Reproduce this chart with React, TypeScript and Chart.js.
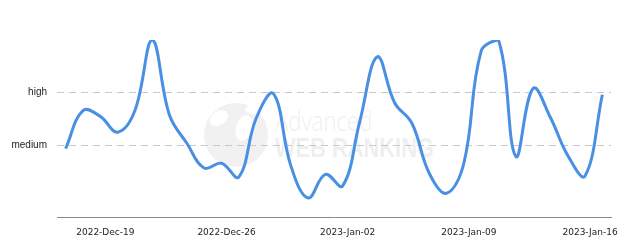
import React, { useEffect, useRef } from "react";
import { Chart, registerables } from "chart.js";

Chart.register(...registerables);

const days = [
  "2022-12-16", "2022-12-17", "2022-12-18", "2022-12-19", "2022-12-20", "2022-12-21",
  "2022-12-22", "2022-12-23", "2022-12-24", "2022-12-25", "2022-12-26", "2022-12-27",
  "2022-12-28", "2022-12-29", "2022-12-30", "2022-12-31", "2023-01-01", "2023-01-02",
  "2023-01-03", "2023-01-04", "2023-01-05", "2023-01-06", "2023-01-07", "2023-01-08",
  "2023-01-09", "2023-01-10", "2023-01-11", "2023-01-12", "2023-01-13", "2023-01-14",
  "2023-01-15", "2023-01-16",
];

const volatility = [
  1.94, 2.66, 2.55, 2.25, 2.66, 4.0, 2.57, 2.04, 1.57, 1.66, 1.4, 2.51,
  2.98, 1.62, 1.0, 1.45, 1.23, 2.47, 3.68, 2.81, 2.42, 1.47, 1.09, 1.66,
  3.79, 4.0, 1.79, 3.08, 2.53, 1.81, 1.42, 2.96,
];

const recordHour = 17;

const tickDays = ["2022-12-19", "2022-12-26", "2023-01-02", "2023-01-09", "2023-01-16"];
const tickLabels = ["2022-Dec-19", "2022-Dec-26", "2023-Jan-02", "2023-Jan-09", "2023-Jan-16"];

const levelValues = [2, 3];
const levelNames = ["medium", "high"];

const yMin = 0.64;
const yMax = 4;

const DAY = 86400000;
const base = Date.parse(days[0] + "T00:00:00Z");
const dayNum = (d: string) => (Date.parse(d + "T00:00:00Z") - base) / DAY;

const watermark = {
  id: "watermark",
  beforeDraw(chart: any) {
    const ctx = chart.ctx;
    ctx.save();
    // globe
    ctx.fillStyle = "#f1f1f1";
    ctx.beginPath();
    ctx.arc(236, 135, 32, 0, Math.PI * 2);
    ctx.fill();
    ctx.fillStyle = "#ffffff";
    ctx.beginPath();
    ctx.ellipse(219, 118, 10, 7, -0.6, 0, Math.PI * 2);
    ctx.fill();
    ctx.beginPath();
    ctx.ellipse(244, 128, 8, 13, 0.3, 0, Math.PI * 2);
    ctx.fill();
    ctx.beginPath();
    ctx.ellipse(252, 110, 7, 4, 0.2, 0, Math.PI * 2);
    ctx.fill();
    ctx.fillStyle = "#efefef";
    ctx.textBaseline = "alphabetic";
    ctx.textAlign = "left";
    ctx.save();
    ctx.translate(275, 131);
    ctx.scale(0.82, 1);
    ctx.font = "300 27px 'Open Sans', 'Liberation Sans', sans-serif";
    ctx.fillText("Advanced", 0, 0);
    ctx.restore();
    ctx.save();
    ctx.translate(275, 157);
    ctx.scale(0.78, 1);
    ctx.font = "bold 28px 'Liberation Sans', Arial, sans-serif";
    ctx.fillText("WEB RANKING", 0, 0);
    ctx.restore();
    ctx.restore();
  },
};

export default function App() {
  const ref = useRef<HTMLCanvasElement | null>(null);

  useEffect(() => {
    if (!ref.current) return;
    const xs = days.map((d) => dayNum(d) + recordHour / 24);
    const chart = new Chart(ref.current, {
      type: "line",
      data: {
        datasets: [
          {
            data: xs.map((x, i) => ({ x, y: volatility[i] })),
            borderColor: "#4a90e2",
            borderWidth: 3,
            pointRadius: 0,
            tension: 0.4,
            fill: false,
          },
        ],
      },
      options: {
        animation: false,
        responsive: false,
        maintainAspectRatio: false,
        layout: { padding: { top: 40, right: 29, left: 0, bottom: 0 } },
        plugins: { legend: { display: false }, tooltip: { enabled: false } },
        scales: {
          x: {
            type: "linear",
            min: xs[0] - 0.5,
            max: xs[xs.length - 1] + 0.5,
            grid: { display: false, drawTicks: false },
            border: { display: true, color: "#888888", width: 1 },
            afterBuildTicks: (scale: any) => {
              scale.ticks = tickDays.map((d) => ({ value: dayNum(d) }));
            },
            afterFit: (scale: any) => {
              scale.height = 28;
            },
            ticks: {
              autoSkip: false,
              maxRotation: 0,
              padding: 10,
              color: "#222222",
              font: { family: "'DejaVu Sans', Verdana, sans-serif", size: 9 },
              callback: (v: any) => {
                const i = tickDays.findIndex((d) => Math.abs(dayNum(d) - Number(v)) < 1e-6);
                return i >= 0 ? tickLabels[i] : "";
              },
            },
          },
          y: {
            type: "linear",
            min: yMin,
            max: yMax,
            grid: { color: "#c8c8c8", drawTicks: false, lineWidth: 1 },
            border: { display: false, dash: [7, 5] },
            afterBuildTicks: (scale: any) => {
              scale.ticks = levelValues.map((v) => ({ value: v }));
            },
            afterFit: (scale: any) => {
              scale.width = 57;
            },
            ticks: {
              padding: 10,
              color: "#222222",
              font: { family: "'Liberation Sans', Arial, sans-serif", size: 10 },
              callback: (v: any) => {
                const i = levelValues.indexOf(Number(v));
                return i >= 0 ? levelNames[i] : "";
              },
            },
          },
        },
      },
      plugins: [watermark],
    });
    return () => chart.destroy();
  }, []);

  return (
    <div style={{ position: "fixed", left: 0, top: 0, width: 640, height: 245, background: "#fff" }}>
      <canvas ref={ref} width={640} height={245} style={{ display: "block", width: 640, height: 245 }} />
    </div>
  );
}
